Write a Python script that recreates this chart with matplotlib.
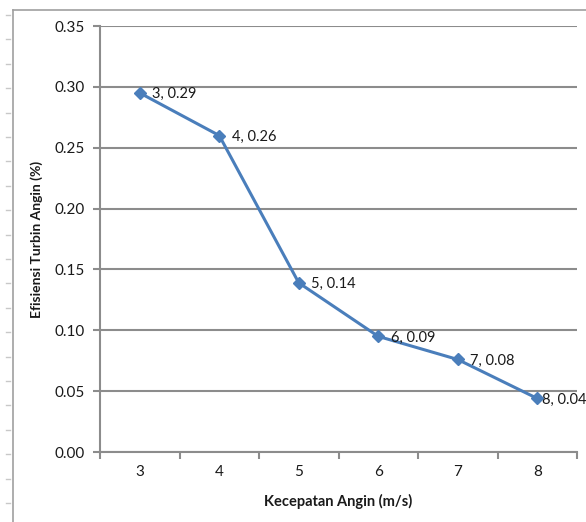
import matplotlib
matplotlib.use('Agg')
import matplotlib.pyplot as plt
from matplotlib.lines import Line2D
import numpy as np

# wind speed (m/s) and turbine efficiency
kecepatan = [3, 4, 5, 6, 7, 8]
efisiensi = [0.295, 0.26, 0.139, 0.095, 0.076, 0.044]
label_eff = ['0.29', '0.26', '0.14', '0.09', '0.08', '0.04']
y_ticks = [0.0, 0.05, 0.10, 0.15, 0.20, 0.25, 0.30, 0.35]

plt.rcParams['font.family'] = ['Lato', 'DejaVu Sans']

W, H = 586, 522
fig = plt.figure(figsize=(W / 100, H / 100), dpi=100)
ax = fig.add_axes([100 / W, (H - 452) / H, 477 / W, 426 / H])

grid_c = '#8c8c8c'
blue = '#4a7ebb'
txt_c = '#1a1a1a'

pos = np.arange(len(kecepatan))
ax.plot(pos, efisiensi, color=blue, lw=2.2, marker='D', ms=6.5,
        markerfacecolor=blue, markeredgecolor=blue, clip_on=False, zorder=3)
for p, v, lab, k in zip(pos, efisiensi, label_eff, kecepatan):
    dx = 9 if p < pos[-1] else 3.5   # last label pushed in like excel does
    ax.annotate('{}, {}'.format(k, lab), (p, v), xytext=(dx, -1),
                textcoords='offset points', ha='left', va='center',
                fontsize=10.5, color=txt_c, annotation_clip=False, clip_on=False)

ax.set_xlim(-0.5, len(kecepatan) - 0.5)
ax.set_ylim(0, 0.35)
ax.set_yticks(y_ticks)
ax.set_yticklabels(['{:.2f}'.format(t) for t in y_ticks], fontsize=11, color=txt_c)
ax.set_xticks(pos)
ax.set_xticklabels([str(k) for k in kecepatan], fontsize=11, color=txt_c)
ax.set_xticks(np.arange(-0.5, len(kecepatan)), minor=True)
ax.tick_params(axis='x', which='major', length=0, pad=9)
ax.tick_params(axis='x', which='minor', length=5, color=grid_c, width=1.5, direction='out')
ax.tick_params(axis='y', length=5, color=grid_c, width=1.5, pad=6)

ax.grid(axis='y', color=grid_c, lw=1.5)
ax.set_axisbelow(True)
for s in ['top', 'right']:
    ax.spines[s].set_visible(False)
for s in ['left', 'bottom']:
    ax.spines[s].set_color(grid_c)
    ax.spines[s].set_linewidth(1.5)

ax.set_xlabel('Kecepatan Angin (m/s)', fontsize=10.5, fontweight='bold', color=txt_c, labelpad=11)
ax.set_ylabel('Efisiensi Turbin Angin (%)', fontsize=10, fontweight='bold', color=txt_c, labelpad=8)

# outer frame and ruler marks
fig.add_artist(Line2D([13 / W, 1], [1 - 9.5 / H, 1 - 9.5 / H], color='#a0a0a0', lw=1.2))
fig.add_artist(Line2D([13 / W, 13 / W], [0, 1 - 9.5 / H], color='#a0a0a0', lw=1.2))
for yy in np.arange(15, 520, 24.4):
    fig.add_artist(Line2D([6 / W, 10 / W], [1 - yy / H, 1 - yy / H], color='#c8c8c8', lw=1))

fig.savefig('out.png', dpi=100)
